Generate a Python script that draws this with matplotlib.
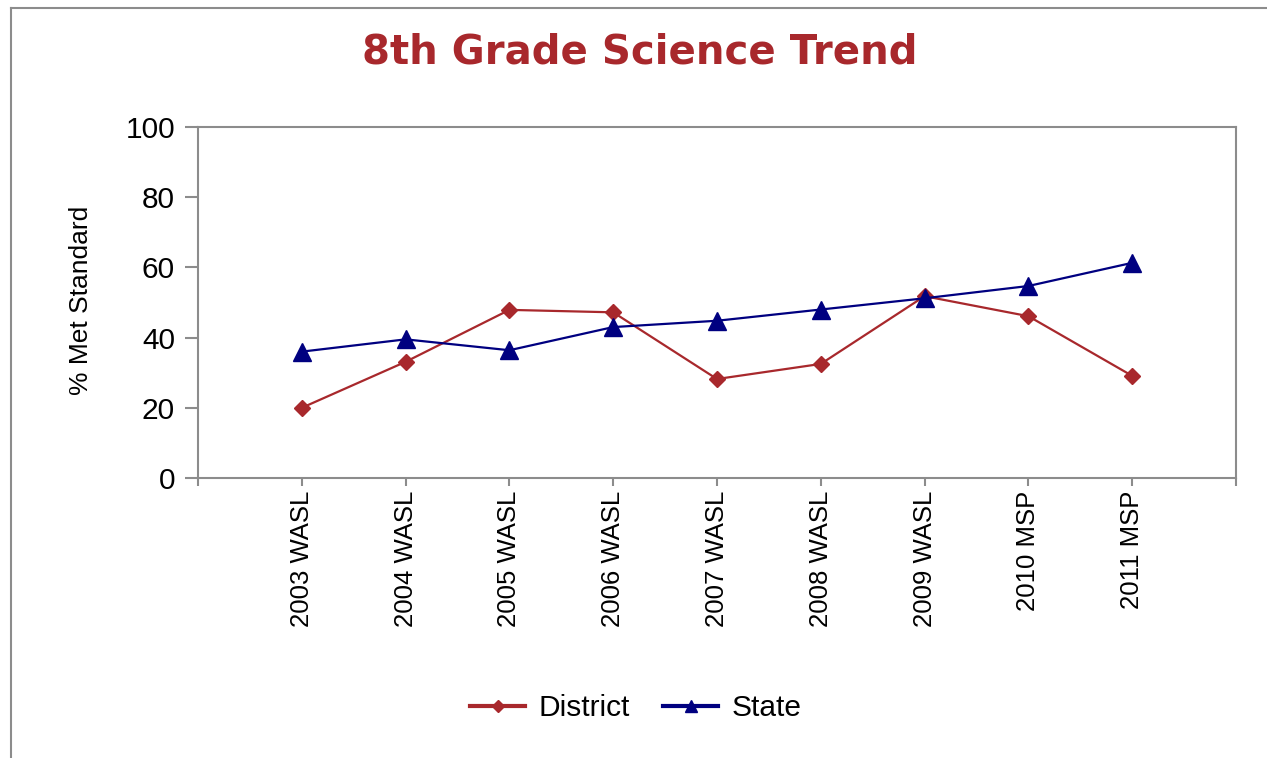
import matplotlib.pyplot as plt
from matplotlib.lines import Line2D

# values
tests = ["2003 WASL", "2004 WASL", "2005 WASL", "2006 WASL", "2007 WASL",
         "2008 WASL", "2009 WASL", "2010 MSP", "2011 MSP"]
district = [20.0, 33.1, 47.9, 47.2, 28.2, 32.5, 51.8, 46.1, 29.1]
state = [36.0, 39.5, 36.4, 43.0, 44.8, 48.0, 51.2, 54.7, 61.3]

red = "#A8282C"
navy = "#000080"
grey = "#8C8C8C"
font = "Liberation Sans"


def main():
    fig = plt.figure(figsize=(12.67, 7.58), dpi=100)
    ax = fig.add_axes([198 / 1267, 1 - 478 / 758, (1236 - 198) / 1267, (478 - 127) / 758])

    xs = list(range(1, len(tests) + 1))
    ax.plot(xs, district, color=red, linewidth=1.6, marker="D", markersize=8.5, label="District")
    ax.plot(xs, state, color=navy, linewidth=1.6, marker="^", markersize=13, label="State")

    ax.set_xlim(0, len(tests) + 1)
    ax.set_ylim(0, 100)
    ax.set_yticks(range(0, 101, 20))
    ax.set_xticks([0] + xs + [len(tests) + 1])
    ax.set_xticklabels([""] + tests + [""], rotation=90, family=font, fontsize=18.5)
    for lbl in ax.get_yticklabels():
        lbl.set_family(font)
        lbl.set_fontsize(21.5)

    for s in ax.spines.values():
        s.set_color(grey)
        s.set_linewidth(1.5)
    ax.tick_params(colors=grey, width=1.5, labelcolor="black")
    ax.tick_params(axis="x", length=6, pad=3)
    ax.tick_params(axis="y", length=9.5, pad=7)

    fig.text(81 / 1267, 1 - 300 / 758, "% Met Standard", rotation=90, ha="center", va="center",
             family=font, fontsize=19)

    fig.text(640 / 1267, 1 - 52 / 758, "8th Grade Science Trend", ha="center", va="center",
             fontsize=29, fontweight="bold", color=red, family="DejaVu Sans")

    handles = [
        Line2D([], [], color=red, linewidth=3, marker="D", markersize=6),
        Line2D([], [], color=navy, linewidth=3, marker="^", markersize=8),
    ]
    fig.legend(handles, ["District", "State"], loc="center", bbox_to_anchor=(636 / 1267, 1 - 708 / 758),
               ncol=2, frameon=False, prop={"family": font, "size": 21.5}, handlelength=1.85,
               handletextpad=0.45, columnspacing=1.1)

    # outer border of the chart area
    fig.add_artist(Line2D([11 / 1267, 11 / 1267], [0, 1 - 8 / 758], color=grey, linewidth=1.5))
    fig.add_artist(Line2D([11 / 1267, 1], [1 - 8 / 758, 1 - 8 / 758], color=grey, linewidth=1.5))

    fig.savefig("out.png", dpi=100, facecolor="white")
    plt.close(fig)


if __name__ == "__main__":
    main()
